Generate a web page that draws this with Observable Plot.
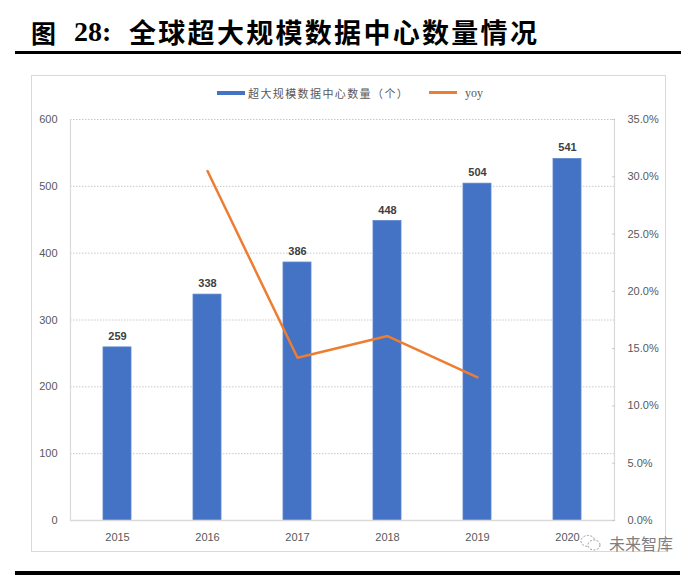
<!DOCTYPE html>
<html>
<head>
<meta charset="utf-8">
<script src="https://cdn.jsdelivr.net/npm/d3@7"></script>
<script src="https://cdn.jsdelivr.net/npm/@observablehq/plot@0.6"></script>
<style>
  html, body { margin: 0; padding: 0; background: #fff; }
  #wrap { position: relative; width: 700px; height: 575px; overflow: hidden; background: #fff; }
  .abs { position: absolute; white-space: nowrap; }
  .cjk { font-family: "Noto Sans CJK SC", sans-serif; }
</style>
</head>
<body>
<div id="wrap">
  <div class="abs cjk" style="left:31px; top:18px; font-size:25px; line-height:28px; font-weight:700; color:#000;">图</div>
  <div class="abs" style="left:74px; top:18px; font-size:28px; line-height:28px; font-weight:700; font-family:'Liberation Serif', serif; color:#000;">28:</div>
  <div class="abs cjk" style="left:129px; top:18px; font-size:27px; line-height:28px; font-weight:700; letter-spacing:2.3px; color:#000;">全球超大规模数据中心数量情况</div>
  <div class="abs" style="left:15px; top:51px; width:666px; height:3px; background:#000;"></div>
  <div class="abs" style="left:31px; top:75px; width:635px; height:477px; border:1.5px solid #d9d9d9; box-sizing:border-box;"></div>

  <div class="abs" style="left:217px; top:91px; width:28px; height:4px; background:#4472C4;"></div>
  <div class="abs cjk" style="left:248px; top:85px; font-size:11px; line-height:16px; letter-spacing:1.4px; color:#595959;">超大规模数据中心数量（个）</div>
  <div class="abs" style="left:429px; top:91px; width:28px; height:3px; background:#ED7D31;"></div>
  <div class="abs" style="left:465px; top:85px; font-size:12px; line-height:16px; font-family:'Liberation Serif', serif; color:#595959;">yoy</div>

  <div id="chart" class="abs" style="left:0; top:100px;"></div>

  <svg class="abs" style="left:579px; top:533px;" width="24" height="20" viewBox="0 0 24 20">
    <ellipse cx="9" cy="8" rx="7" ry="5.5" fill="none" stroke="#9a9a9a" stroke-width="1" stroke-dasharray="2,1.5"/>
    <ellipse cx="15" cy="12" rx="6" ry="5" fill="#fff" stroke="#9a9a9a" stroke-width="1" stroke-dasharray="2,1.5"/>
  </svg>
  <div class="abs cjk" style="left:609px; top:533px; font-size:16px; line-height:20px; color:#7f7f7f;">未来智库</div>
  <div class="abs" style="left:15px; top:571px; width:665px; height:4px; background:#000;"></div>
</div>
<script>
const years = ["2015", "2016", "2017", "2018", "2019", "2020"];
const counts = [259, 338, 386, 448, 504, 541];
const yoyYears = ["2016", "2017", "2018", "2019"];
const yoyPct = [30.5, 14.2, 16.1, 12.5];
const leftTicks = [0, 100, 200, 300, 400, 500, 600];
const rightTicks = [0, 5, 10, 15, 20, 25, 30, 35];

const leftMax = 600, rightMax = 35;
const k = leftMax / rightMax;
const bars = years.map((y, i) => ({year: y, count: counts[i]}));
const yoy = yoyYears.map((y, i) => ({year: y, v: yoyPct[i] * k}));
const rightTickPos = rightTicks.map(p => p * k);

const chart = Plot.plot({
  width: 700,
  height: 450,
  marginTop: 19,
  marginBottom: 30,
  marginLeft: 70,
  marginRight: 86,
  style: {background: "transparent", fontFamily: "'Liberation Sans', Arial, sans-serif", fontSize: "11px", color: "#595959", overflow: "visible"},
  x: {domain: years, paddingInner: 0.69, paddingOuter: 0.345, axis: null},
  y: {domain: [0, leftMax], axis: null},
  marks: [
    Plot.gridY(leftTicks.slice(1), {stroke: "#c8c8c8", strokeOpacity: 1, strokeDasharray: "1.5,1.5"}),
    Plot.barY(bars, {x: "year", y: "count", fill: "#4472C4", stroke: "#5b85d0", strokeWidth: 0.8}),
    Plot.line(yoy, {x: "year", y: "v", stroke: "#ED7D31", strokeWidth: 2.5, strokeLinejoin: "miter"}),
    Plot.text(bars, {x: "year", y: "count", text: d => String(d.count), dy: -11, fontWeight: "bold", fill: "#404040"}),
    Plot.ruleY([0], {stroke: "#d9d9d9", strokeWidth: 1.5}),
    Plot.frame({anchor: "left", stroke: "#d9d9d9", strokeWidth: 1.2}),
    Plot.frame({anchor: "right", stroke: "#d9d9d9", strokeWidth: 1.2}),
    Plot.axisY(leftTicks, {anchor: "left", tickSize: 0, tickPadding: 13, label: null}),
    Plot.axisY(rightTickPos, {anchor: "right", tickSize: 0, tickPadding: 13, tickFormat: d => (d / k).toFixed(1) + "%", label: null}),
    Plot.axisY(rightTickPos, {anchor: "right", tickSize: 3, dx: -3, stroke: "#c8c8c8", tickFormat: () => "", label: null}),
    Plot.axisX(years, {tickSize: 0, tickPadding: 13, label: null})
  ]
});
document.getElementById("chart").appendChild(chart);
</script>
</body>
</html>
